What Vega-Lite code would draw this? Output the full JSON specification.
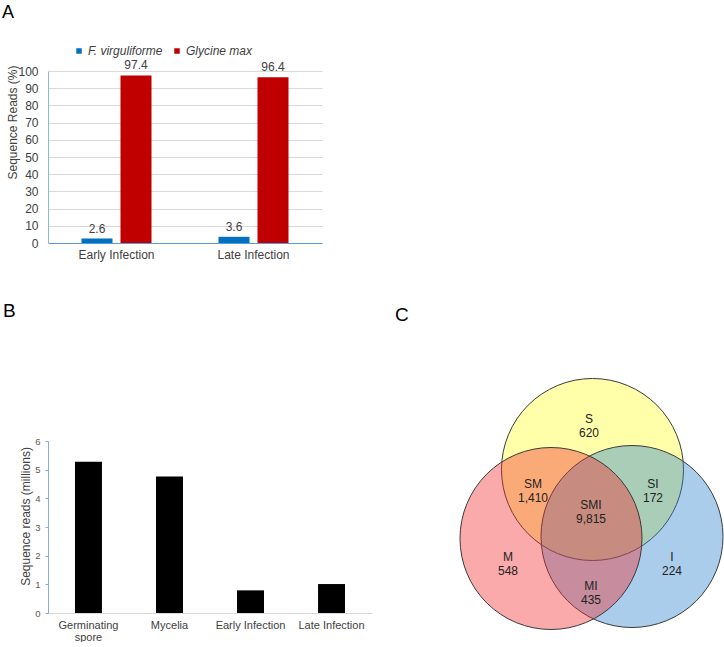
{
  "$schema": "https://vega.github.io/schema/vega-lite/v6.json",
  "padding": {"left": 2, "top": 4, "right": 0, "bottom": 0},
  "background": "white",
  "config": {
    "font": "Liberation Sans",
    "view": {"stroke": null},
    "title": {"fontWeight": "normal", "color": "#000000", "anchor": "start", "frame": "group"}
  },
  "bounds": "flush",
  "spacing": 198,
  "vconcat": [
    {
      "width": 274,
      "height": 172,
      "title": {"text": "A", "fontSize": 18, "dx": -46, "offset": 37},
      "data": {
        "values": [
          {"stage": "Early Infection", "organism": "F. virguliforme", "pct": 2.6},
          {"stage": "Early Infection", "organism": "Glycine max", "pct": 97.4},
          {"stage": "Late Infection", "organism": "F. virguliforme", "pct": 3.6},
          {"stage": "Late Infection", "organism": "Glycine max", "pct": 96.4}
        ]
      },
      "encoding": {
        "x": {
          "field": "stage", "type": "nominal", "sort": ["Early Infection", "Late Infection"],
          "scale": {"paddingInner": 0.489, "paddingOuter": 0.2445},
          "axis": {"title": null, "labelAngle": 0, "labelFontSize": 12, "labelColor": "#404040", "ticks": false, "domainColor": "#5b9bd5", "labelPadding": 6}
        },
        "xOffset": {
          "field": "organism", "type": "nominal", "sort": ["F. virguliforme", "Glycine max"],
          "scale": {"paddingInner": 0.205, "paddingOuter": 0}
        },
        "y": {
          "field": "pct", "type": "quantitative",
          "scale": {"domain": [0, 100], "nice": false},
          "axis": {
            "values": [0, 10, 20, 30, 40, 50, 60, 70, 80, 90, 100],
            "title": "Sequence Reads (%)", "titleFontSize": 12, "titleFontWeight": "normal", "titleColor": "#404040",
            "titleX": -29, "titleY": 51,
            "labelFontSize": 12, "labelColor": "#404040", "labelPadding": 10,
            "ticks": false, "gridColor": "#d9d9d9", "domainColor": "#8fb4de"
          }
        }
      },
      "layer": [
        {
          "mark": {"type": "bar"},
          "encoding": {
            "color": {
              "field": "organism", "type": "nominal", "sort": ["F. virguliforme", "Glycine max"],
              "scale": {"range": ["#0070c0", "#c00000"]},
              "legend": {
                "orient": "none", "legendX": 25, "legendY": -26, "direction": "horizontal",
                "title": null, "symbolType": "square", "symbolSize": 30, "symbolStrokeWidth": 0,
                "labelFontSize": 12, "labelFontStyle": "italic", "labelColor": "#404040",
                "columnPadding": 8, "labelOffset": 3, "padding": 0
              }
            }
          }
        },
        {
          "mark": {"type": "text", "baseline": "bottom", "dy": -3, "fontSize": 12, "color": "#404040"},
          "encoding": {"text": {"field": "pct", "type": "quantitative", "format": ".1f"}}
        }
      ]
    },
    {
      "bounds": "flush",
      "spacing": 87,
      "hconcat": [
        {
          "width": 324,
          "height": 172,
          "title": {"text": "B", "fontSize": 19, "dx": -45, "offset": 115},
          "data": {
            "values": [
              {"sample": "Germinating spore", "reads": 5.28},
              {"sample": "Mycelia", "reads": 4.76},
              {"sample": "Early Infection", "reads": 0.79},
              {"sample": "Late Infection", "reads": 1.01}
            ]
          },
          "mark": {"type": "bar", "color": "#000000"},
          "encoding": {
            "x": {
              "field": "sample", "type": "nominal", "sort": null,
              "scale": {"paddingInner": 0.667, "paddingOuter": 0.333},
              "axis": {
                "title": null, "labelAngle": 0, "labelFontSize": 11, "labelColor": "#404040",
                "ticks": false, "domainColor": "#d9d9d9", "labelPadding": 6, "labelLineHeight": 12,
                "labelExpr": "datum.label == 'Germinating spore' ? ['Germinating', 'spore'] : datum.label"
              }
            },
            "y": {
              "field": "reads", "type": "quantitative",
              "scale": {"domain": [0, 6], "nice": false},
              "axis": {
                "values": [0, 1, 2, 3, 4, 5, 6], "grid": false,
                "title": "Sequence reads (millions)", "titleFontSize": 12, "titleFontWeight": "normal", "titleColor": "#404040",
                "titleX": -16, "titleY": 75,
                "labelFontSize": 9.5, "labelColor": "#595959", "labelPadding": 5,
                "tickSize": 3, "tickColor": "#8eaacc", "domainColor": "#8eaacc"
              }
            }
          }
        },
        {
          "width": 260,
          "height": 172,
          "title": {"text": "C", "fontSize": 19, "dx": -64, "offset": 52},
          "layer": [
            {
              "data": {
                "values": [
                  {"set": "S", "cx": 133.5, "cy": 143.5},
                  {"set": "I", "cx": 173, "cy": 76.5},
                  {"set": "M", "cx": 92, "cy": 74.5}
                ]
              },
              "mark": {"type": "point", "shape": "circle", "filled": true, "size": 33124, "opacity": 1, "fillOpacity": 0.4, "stroke": "#3a3a3a", "strokeWidth": 1, "strokeOpacity": 1},
              "encoding": {
                "x": {"field": "cx", "type": "quantitative", "scale": {"domain": [0, 260], "nice": false, "zero": false}, "axis": null},
                "y": {"field": "cy", "type": "quantitative", "scale": {"domain": [0, 172], "nice": false, "zero": false}, "axis": null},
                "fill": {"field": "set", "type": "nominal", "scale": {"domain": ["S", "I", "M"], "range": ["#ffff2a", "#2a82cd", "#f32a2a"]}, "legend": null}
              }
            },
            {
              "data": {
                "values": [
                  {"label": "S\n620", "lx": 130, "ly": 194},
                  {"label": "SM\n1,410", "lx": 74, "ly": 129.5},
                  {"label": "SMI\n9,815", "lx": 132, "ly": 108.5},
                  {"label": "SI\n172", "lx": 194, "ly": 129},
                  {"label": "M\n548", "lx": 49, "ly": 56.5},
                  {"label": "I\n224", "lx": 213, "ly": 56.5},
                  {"label": "MI\n435", "lx": 132, "ly": 27.5}
                ]
              },
              "mark": {"type": "text", "lineBreak": "\n", "fontSize": 12, "lineHeight": 14, "color": "#222222", "baseline": "middle"},
              "encoding": {
                "x": {"field": "lx", "type": "quantitative", "scale": {"domain": [0, 260], "nice": false, "zero": false}, "axis": null},
                "y": {"field": "ly", "type": "quantitative", "scale": {"domain": [0, 172], "nice": false, "zero": false}, "axis": null},
                "text": {"field": "label"}
              }
            }
          ]
        }
      ]
    }
  ]
}
